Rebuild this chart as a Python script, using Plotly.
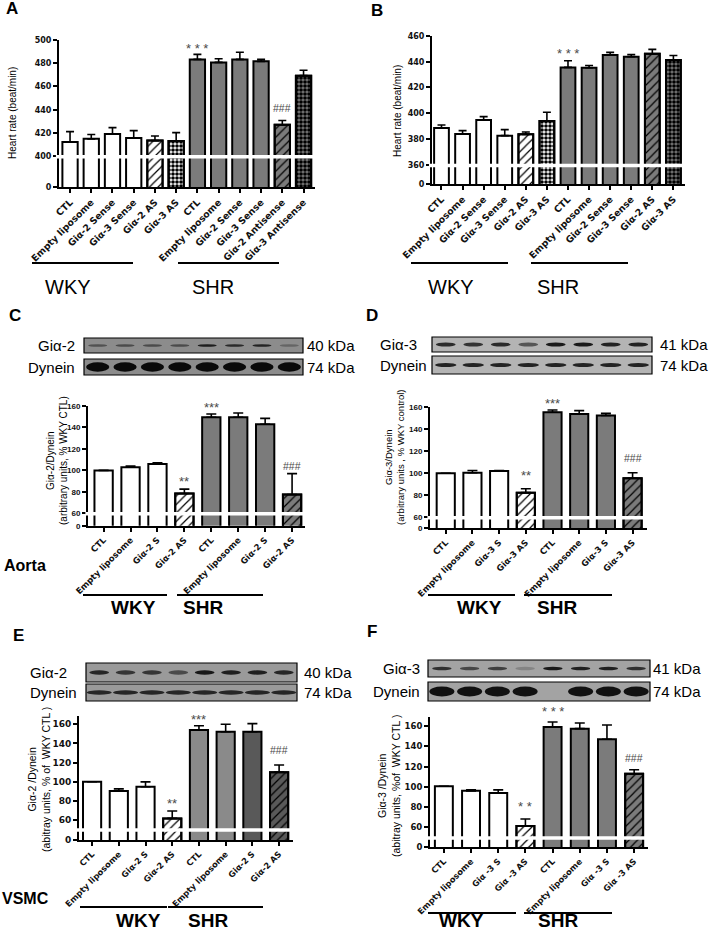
import plotly.graph_objects as go

W, H = 711, 931

# ---------------- data ----------------
a_labels = ["CTL", "Empty liposome", "Giα-2 Sense", "Giα-3 Sense", "Giα-2 AS", "Giα-3 AS",
            "CTL", "Empty liposome", "Giα-2 Sense", "Giα-3 Sense", "Giα-2 Antisense", "Giα-3 Antisense"]
a_values = [412.3, 414.9, 419.1, 415.7, 413.4, 413.1, 483.3, 480.7, 483.3, 481.6, 427.0, 469.3]
a_errors = [8.8, 3.7, 5.5, 6.3, 4.0, 7.2, 4.3, 3.2, 6.1, 1.7, 3.7, 4.6]

b_labels = ["CTL", "Empty liposome", "Giα-2 Sense", "Giα-3 Sense", "Giα-2 AS", "Giα-3 AS",
            "CTL", "Empty liposome", "Giα-2 Sense", "Giα-3 Sense", "Giα-2 AS", "Giα-3 AS"]
b_values = [388.6, 383.9, 394.8, 382.6, 383.6, 394.0, 435.6, 435.3, 445.2, 443.9, 446.2, 441.3]
b_errors = [2.3, 2.6, 2.6, 4.7, 1.8, 6.8, 5.2, 1.8, 2.1, 1.6, 3.4, 3.6]

c_labels = ["CTL", "Empty liposome", "Giα-2 S", "Giα-2 AS", "CTL", "Empty liposome", "Giα-2 S", "Giα-2 AS"]
c_values = [100, 103, 106, 78.5, 149.5, 149.5, 143, 77.5]
c_errors = [0, 1, 1, 4, 3, 4, 5.5, 19.5]

d_labels = ["CTL", "Empty liposome", "Giα-3 S", "Giα-3 AS", "CTL", "Empty liposome", "Giα-3 S", "Giα-3 AS"]
d_values = [100, 100.5, 102, 82.4, 155.5, 154, 152.5, 95.5]
d_errors = [0, 2, 0.5, 3.6, 2, 3, 2, 5]

e_labels = ["CTL", "Empty liposome", "Giα-2 S", "Giα-2 AS", "CTL", "Empty liposome", "Giα-2 S", "Giα-2 AS"]
e_values = [100, 90.3, 94.8, 61.7, 154, 152.3, 152.3, 110]
e_errors = [0, 2.2, 5, 7.7, 4.5, 7.7, 8.4, 7.5]

f_labels = ["CTL", "Empty liposome", "Giα -3 S", "Giα -3 AS", "CTL", "Empty liposome", "Giα -3 S", "Giα -3 AS"]
f_values = [100.5, 96, 94, 61.3, 159, 157.4, 147, 112.8]
f_errors = [0, 1, 3, 7, 5, 5.6, 14, 4]

# western blot band intensities (0 = none, 1 = black), 8 lanes
c_blot_target = [0.45, 0.5, 0.5, 0.5, 0.85, 0.75, 0.8, 0.3]
c_blot_dynein = [1, 1, 1, 1, 1, 1, 1, 1]
d_blot_target = [0.8, 0.75, 0.8, 0.55, 0.9, 0.9, 0.85, 0.85]
d_blot_dynein = [0.85, 0.85, 0.85, 0.85, 0.85, 0.85, 0.85, 0.85]
e_blot_target = [0.8, 0.7, 0.7, 0.55, 0.9, 0.85, 0.85, 0.8]
e_blot_dynein = [0.8, 0.8, 0.8, 0.8, 0.8, 0.8, 0.8, 0.8]
f_blot_target = [0.75, 0.6, 0.65, 0.2, 0.9, 0.85, 0.85, 0.75]
f_blot_dynein = [0.95, 0.95, 0.95, 0.95, 0.0, 0.95, 0.95, 0.95]

groups = ["WKY", "SHR"]

GRAY = "#7b7b7b"


def px(x):
    return x / W


def py(y):
    return 1 - y / H


panels = [
    dict(key="A", labels=a_labels, values=a_values, errors=a_errors,
         fills=["white"] * 6 + [GRAY] * 6,
         pats=["", "", "", "", "/", ".", "", "", "", "", "/", "."],
         xd=(59, 315), yd=(40, 187.3), xr=(-0.52, 11.54), yr=(373.2, 500),
         ticks=[400, 420, 440, 460, 480, 500], brk=399.5,
         marks=[(6, "* * *", -4), (10, "###", 4)],
         tfont=dict(family="DejaVu Sans", size=8, color="#111", weight="bold"),
         xfont=dict(family="DejaVu Sans", size=9.3, color="#111", weight="bold"),
         title="Heart rate (beat/min)", title_xy=(13, 113), title_size=10,
         letter=(12, 9), gline=[(32, 133, 263), (178, 279, 263)],
         glab=[(68, 287), (213, 287)], gbold=False, gsize=20, capw=4, bw=0.72),
    dict(key="B", labels=b_labels, values=b_values, errors=b_errors,
         fills=["white"] * 6 + [GRAY] * 6,
         pats=["", "", "", "", "/", ".", "", "", "", "", "/", "."],
         xd=(432, 685), yd=(36, 184.3), xr=(-0.45, 11.55), yr=(344.8, 460),
         ticks=[360, 380, 400, 420, 440, 460], brk=359.5,
         marks=[(6, "* * *", -2)],
         tfont=dict(family="DejaVu Sans", size=8, color="#111", weight="bold"),
         xfont=dict(family="DejaVu Sans", size=9.3, color="#111", weight="bold"),
         title="Heart rate (beat/min)", title_xy=(397, 111), title_size=10,
         letter=(377, 10), gline=[(411, 508, 263), (531, 628, 263)],
         glab=[(451, 287), (558, 287)], gbold=False, gsize=20, capw=4, bw=0.7),
    dict(key="C", labels=c_labels, values=c_values, errors=c_errors,
         fills=["white"] * 4 + [GRAY] * 4,
         pats=["", "", "", "/", "", "", "", "/"],
         xd=(88, 305), yd=(406, 525.7), xr=(-0.58, 7.48), yr=(48.45, 160),
         ticks=[60, 80, 100, 120, 140, 160], brk=59.5,
         marks=[(3, "**", -2), (4, "***", -3), (7, "###", 0)],
         tfont=dict(family="Liberation Sans", size=8, color="#111", weight="bold"),
         xfont=dict(family="DejaVu Sans", size=8.5, color="#111", weight="bold"),
         title="Giα-2/Dynein<br>(arbitrary units, % WKY CTL)", title_xy=(57, 461), title_size=10,
         letter=(15, 315), gline=[(83, 167, 595), (177, 263, 595)],
         glab=[(133, 607), (203, 607)], gbold=True, gsize=19, capw=5, bw=0.68,
         blot=dict(x=(84, 303), y1=(338, 353), y2=(359, 375), bg="#8c8c8c",
                   t=c_blot_target, d=c_blot_dynein, th=(2.6, 9.5), bwf=(0.7, 0.85),
                   labx=77, lanchor="right", labels=("Giα-2", "Dynein"),
                   kx=305, kda=("40 kDa", "74 kDa"))),
    dict(key="D", labels=d_labels, values=d_values, errors=d_errors,
         fills=["white"] * 4 + [GRAY] * 4,
         pats=["", "", "", "/", "", "", "", "/"],
         xd=(430, 647), yd=(407.3, 528.3), xr=(-0.59, 7.54), yr=(50, 160),
         ticks=[60, 80, 100, 120, 140, 160], brk=59.5,
         marks=[(3, "**", 4), (4, "***", -3), (7, "###", 7)],
         tfont=dict(family="Liberation Sans", size=8, color="#111", weight="bold"),
         xfont=dict(family="DejaVu Sans", size=8.5, color="#111", weight="bold"),
         title="Giα-3/Dynein<br>(arbitrary units , % WKY control)", title_xy=(395, 457), title_size=9.5,
         letter=(372, 315), gline=[(428, 515, 595), (524, 612, 595)],
         glab=[(479, 607), (557, 607)], gbold=True, gsize=19, capw=5, bw=0.68,
         blot=dict(x=(432, 652), y1=(337, 352), y2=(356, 374), bg="#b4b4b4",
                   t=d_blot_target, d=d_blot_dynein, th=(4, 4), bwf=(0.72, 0.78),
                   labx=378, lanchor="left", labels=("Giα-3", "Dynein"),
                   kx=658, kda=("41 kDa", "74 kDa"))),
    dict(key="E", labels=e_labels, values=e_values, errors=e_errors,
         fills=["white"] * 4 + ["#8a8a8a", "#8a8a8a", "#595959", "#595959"],
         pats=["", "", "", "/", "", "", "", "/"],
         xd=(79, 293), yd=(716, 840), xr=(-0.49, 7.52), yr=(39.1, 168.7),
         ticks=[60, 80, 100, 120, 140, 160], brk=49.5,
         marks=[(3, "**", -2), (4, "***", -3), (7, "###", 7)],
         tfont=dict(family="DejaVu Sans", size=9, color="#111", weight="bold"),
         xfont=dict(family="DejaVu Sans", size=8.3, color="#111", weight="bold"),
         title="Giα-2 /Dynein<br>(abitray units, % of  WKY CTL )", title_xy=(39, 780), title_size=10.5,
         letter=(18, 635), gline=[(80, 167, 907), (168, 263, 907)],
         glab=[(138, 920), (208, 920)], gbold=True, gsize=19, capw=5, bw=0.68,
         blot=dict(x=(86, 297), y1=(663, 682), y2=(684, 701), bg="#9a9a9a",
                   t=e_blot_target, d=e_blot_dynein, th=(4.5, 4.5), bwf=(0.75, 0.95),
                   labx=28, lanchor="left", labels=("Giα-2", "Dynein"),
                   kx=302, kda=("40 kDa", "74 kDa"))),
    dict(key="F", labels=f_labels, values=f_values, errors=f_errors,
         fills=["white"] * 4 + [GRAY] * 4,
         pats=["", "", "", "/", "", "", "", "/"],
         xd=(430, 648), yd=(716.7, 847.3), xr=(-0.51, 7.51), yr=(40.3, 169.2),
         ticks=[60, 80, 100, 120, 140, 160], brk=49.5,
         marks=[(3, "* *", 3), (4, "* * *", 1), (7, "###", 4)],
         tfont=dict(family="DejaVu Sans", size=8.5, color="#111", weight="bold"),
         xfont=dict(family="DejaVu Sans", size=8.3, color="#111", weight="bold"),
         title="Giα-3 /Dynein<br>(abitray units, %of  WKY CTL )", title_xy=(389, 786), title_size=10.5,
         letter=(372, 631), gline=[(428, 516, 913), (524, 612, 913)],
         glab=[(462, 920), (558, 920)], gbold=True, gsize=19, capw=5, bw=0.66,
         blot=dict(x=(428, 650), y1=(660, 677), y2=(682, 701), bg="#a3a3a3",
                   t=f_blot_target, d=f_blot_dynein, th=(3.5, 10), bwf=(0.7, 0.9),
                   labx=422, lanchor="right", labels=("Giα-3", "Dynein"),
                   kx=651, kda=("41 kDa", "74 kDa"))),
]

fig = go.Figure()
shapes = []
annotations = []
layout_axes = {}


def mix(intensity, bg):
    r = int(bg[1:3], 16)
    v = int(r * (1 - intensity) + 10 * intensity)
    return "rgb(%d,%d,%d)" % (v, v, v)


for i, p in enumerate(panels, start=1):
    n = len(p["values"])
    xs = list(range(n))
    sfx = "" if i == 1 else str(i)
    xa, ya = "x" + sfx, "y" + sfx
    # solid bars
    fig.add_trace(go.Bar(
        x=xs, y=p["values"], xaxis=xa, yaxis=ya, width=p["bw"],
        marker=dict(color=p["fills"], line=dict(color="black", width=2)),
        error_y=dict(type="data", array=p["errors"], arrayminus=[0] * n, symmetric=False,
                     color="black", thickness=1.6, width=p["capw"]),
        showlegend=False, hoverinfo="skip"))
    # hatch / checker overlay for antisense bars
    pv = [v if s else None for v, s in zip(p["values"], p["pats"])]
    shp = [s if s else "/" for s in p["pats"]]
    fig.add_trace(go.Bar(
        x=xs, y=pv, xaxis=xa, yaxis=ya, width=p["bw"],
        marker=dict(color="rgba(0,0,0,0)", line=dict(color="black", width=2),
                    pattern=dict(shape=shp, fgcolor="black", fgopacity=1, fillmode="replace",
                                 size=[6 if s == "/" else 4 for s in shp],
                                 solidity=[0.2 if s == "/" else 0.65 for s in shp])),
        showlegend=False, hoverinfo="skip"))

    layout_axes["xaxis" + sfx] = dict(
        domain=[px(p["xd"][0]), px(p["xd"][1])], range=list(p["xr"]), anchor=ya,
        tickmode="array", tickvals=xs, ticktext=p["labels"], tickangle=-45,
        ticks="outside", ticklen=4, tickwidth=1.5, tickcolor="black", automargin=False,
        showline=True, linecolor="black", linewidth=2, showgrid=False, zeroline=False,
        tickfont=p["xfont"], fixedrange=True)
    zero = p["yr"][0]
    layout_axes["yaxis" + sfx] = dict(
        domain=[py(p["yd"][1]), py(p["yd"][0])], range=list(p["yr"]), anchor=xa,
        tickmode="array", tickvals=[zero] + p["ticks"], ticktext=["0"] + [str(t) for t in p["ticks"]],
        ticks="outside", ticklen=4, tickwidth=1.5, tickcolor="black", automargin=False,
        showline=True, linecolor="black", linewidth=2, showgrid=False, zeroline=False,
        tickfont=p["tfont"], fixedrange=True)

    # broken-axis white band
    shapes.append(dict(type="line", xref=xa + " domain", yref=ya, x0=-0.012, x1=1.0,
                       y0=p["brk"], y1=p["brk"], line=dict(color="white", width=3.5), layer="above"))

    # significance marks
    for idx, txt, ysh in p["marks"]:
        annotations.append(dict(xref=xa, yref=ya, x=idx, y=p["values"][idx] + p["errors"][idx],
                                text=txt, showarrow=False, yanchor="bottom", yshift=ysh,
                                font=dict(family="Liberation Sans",
                                          size=10.5 if "#" in txt else 13, color="#4a4a4a")))

    # y title
    tx, ty = p["title_xy"]
    annotations.append(dict(xref="paper", yref="paper", x=px(tx), y=py(ty), text=p["title"],
                            textangle=-90, showarrow=False, xanchor="center", yanchor="middle",
                            font=dict(family="Liberation Sans", size=p["title_size"], color="black")))
    # panel letter
    lx, ly = p["letter"]
    annotations.append(dict(xref="paper", yref="paper", x=px(lx), y=py(ly), text="<b>%s</b>" % p["key"],
                            showarrow=False, xanchor="center", yanchor="middle",
                            font=dict(family="Liberation Sans", size=17, color="black")))
    # group lines and labels
    for (gx0, gx1, gy), (cx, cy), g in zip(p["gline"], p["glab"], groups):
        shapes.append(dict(type="line", xref="paper", yref="paper", x0=px(gx0), x1=px(gx1),
                           y0=py(gy), y1=py(gy), line=dict(color="black", width=2)))
        annotations.append(dict(xref="paper", yref="paper", x=px(cx), y=py(cy),
                                text=("<b>%s</b>" % g) if p["gbold"] else g, showarrow=False,
                                xanchor="center", yanchor="middle",
                                font=dict(family="Liberation Sans", size=p["gsize"], color="black")))

    # western blot
    b = p.get("blot")
    if b:
        bx0, bx1 = b["x"]
        lane = (bx1 - bx0) / 8.0
        for (sy0, sy1), vals, th, wf in ((b["y1"], b["t"], b["th"][0], b["bwf"][0]),
                                         (b["y2"], b["d"], b["th"][1], b["bwf"][1])):
            shapes.append(dict(type="rect", xref="paper", yref="paper", x0=px(bx0), x1=px(bx1),
                               y0=py(sy1), y1=py(sy0), fillcolor=b["bg"],
                               line=dict(color="black", width=1.2), layer="below"))
            cyy = (sy0 + sy1) / 2.0
            for k, inten in enumerate(vals):
                if inten <= 0:
                    continue
                cxx = bx0 + (k + 0.5) * lane
                shapes.append(dict(type="circle", xref="paper", yref="paper",
                                   x0=px(cxx - lane * wf / 2), x1=px(cxx + lane * wf / 2),
                                   y0=py(cyy + th / 2), y1=py(cyy - th / 2),
                                   fillcolor=mix(inten, b["bg"]), line=dict(width=0), layer="below"))
        for (sy0, sy1), lab, kd in ((b["y1"], b["labels"][0], b["kda"][0]),
                                    (b["y2"], b["labels"][1], b["kda"][1])):
            cyy = (sy0 + sy1) / 2.0
            annotations.append(dict(xref="paper", yref="paper", x=px(b["labx"]), y=py(cyy), text=lab,
                                    showarrow=False, xanchor=b["lanchor"], yanchor="middle",
                                    font=dict(family="Liberation Sans", size=15, color="black")))
            annotations.append(dict(xref="paper", yref="paper", x=px(b["kx"]), y=py(cyy), text=kd,
                                    showarrow=False, xanchor="left", yanchor="middle",
                                    font=dict(family="Liberation Sans", size=15, color="black")))

# tissue labels
annotations.append(dict(xref="paper", yref="paper", x=px(2), y=py(565), text="<b>Aorta</b>",
                        showarrow=False, xanchor="left", yanchor="middle",
                        font=dict(family="Liberation Sans", size=16, color="black")))
annotations.append(dict(xref="paper", yref="paper", x=px(0), y=py(898), text="<b>VSMC</b>",
                        showarrow=False, xanchor="left", yanchor="middle",
                        font=dict(family="Liberation Sans", size=16, color="black")))

fig.update_layout(width=W, height=H, margin=dict(l=0, r=0, t=0, b=0, autoexpand=False),
                  paper_bgcolor="white", plot_bgcolor="rgba(0,0,0,0)", barmode="overlay",
                  shapes=shapes, annotations=annotations, **layout_axes)

fig.write_html("out.html", config={"displayModeBar": False},
               post_script="document.body.style.margin='0px';document.body.style.overflow='hidden';")
